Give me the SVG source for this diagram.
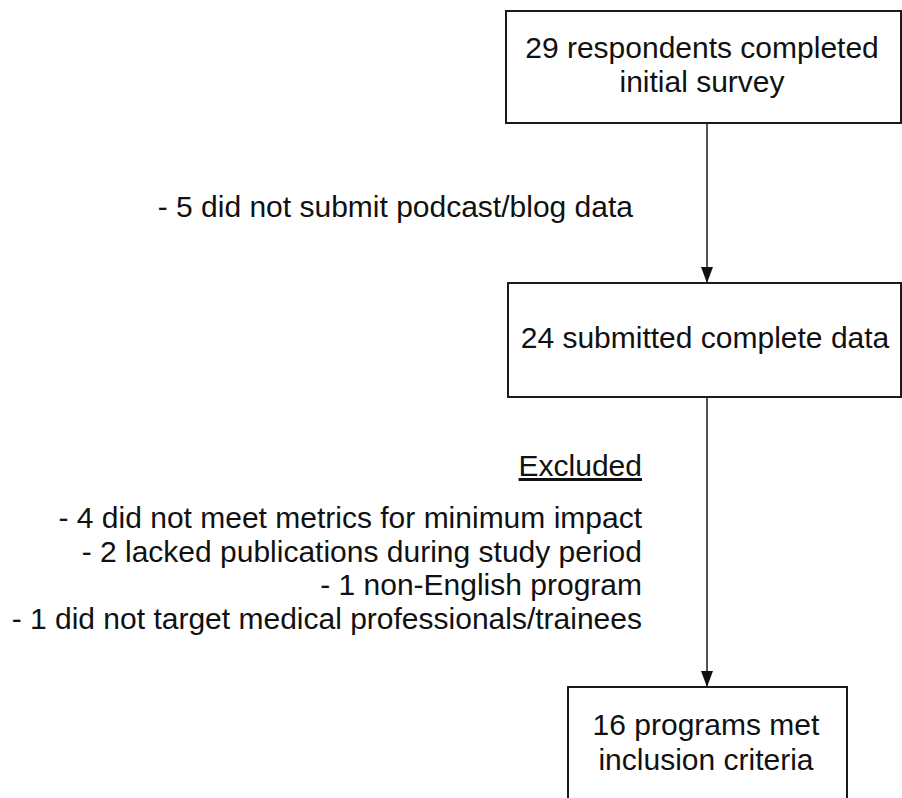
<svg xmlns="http://www.w3.org/2000/svg" width="902" height="798" viewBox="0 0 902 798">
<defs>
<style>
.box{fill:#fff;stroke:#1a1a1a;stroke-width:2}
.t{font-family:"Liberation Sans",Arial,sans-serif;font-size:30px;fill:#111}
.c{text-anchor:middle}
.r{text-anchor:end}
.edge{stroke:#1a1a1a;stroke-width:1.5;fill:none}
</style>
<marker id="ah" markerUnits="userSpaceOnUse" markerWidth="16" markerHeight="20" refX="20" refY="7.5" orient="auto" viewBox="0 0 20 15">
<path d="M0,0 L20,7.5 L0,15 Z" fill="#111"/>
</marker>
</defs>
<rect width="902" height="798" fill="#fff"/>
<g id="connectors">
<line class="edge" x1="707" y1="123" x2="707" y2="283" marker-end="url(#ah)"/>
<line class="edge" x1="707" y1="397" x2="707" y2="687" marker-end="url(#ah)"/>
</g>
<g id="n1">
<rect class="box" x="506" y="11" width="395" height="112"/>
<text class="t c" x="702" y="58">29 respondents completed</text>
<text class="t c" x="702" y="92">initial survey</text>
</g>
<g id="n2">
<rect class="box" x="508" y="283" width="393" height="114"/>
<text class="t c" x="705" y="348">24 submitted complete data</text>
</g>
<g id="n3">
<rect class="box" x="568" y="687" width="279" height="125"/>
<text class="t c" x="706" y="735">16 programs met</text>
<text class="t c" x="706" y="770">inclusion criteria</text>
</g>
<g id="label1">
<text class="t r" x="633" y="217">- 5 did not submit podcast/blog data</text>
</g>
<g id="label2">
<text class="t r" x="642" y="476" text-decoration="underline">Excluded</text>
<text class="t r" x="642" y="528">- 4 did not meet metrics for minimum impact</text>
<text class="t r" x="642" y="562">- 2 lacked publications during study period</text>
<text class="t r" x="642" y="595">- 1 non-English program</text>
<text class="t r" x="642" y="629">- 1 did not target medical professionals/trainees</text>
</g>
</svg>
